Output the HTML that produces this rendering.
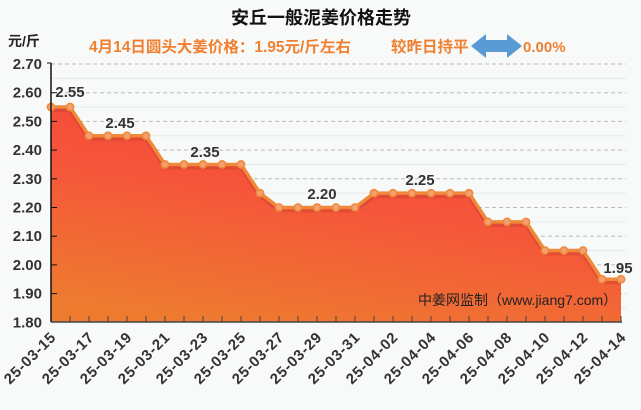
<!DOCTYPE html>
<html><head><meta charset="utf-8"><style>
html,body{margin:0;padding:0;background:#f8fafa;}
svg{display:block;font-family:"Liberation Sans","Noto Sans CJK SC",sans-serif;}
</style></head><body>
<svg width="641" height="410" viewBox="0 0 641 410" xmlns="http://www.w3.org/2000/svg">
<defs>
<linearGradient id="g" x1="0.3" y1="1" x2="0.7" y2="0">
<stop offset="0" stop-color="#ee7a30"/>
<stop offset="0.55" stop-color="#f5553a"/>
<stop offset="1" stop-color="#f5463c"/>
</linearGradient>
</defs>
<rect width="641" height="410" fill="#f8fafa"/>
<text x="321" y="24" font-size="18" font-weight="bold" text-anchor="middle" fill="#111">安丘一般泥姜价格走势</text>
<text x="8" y="46" font-size="14" font-weight="bold" fill="#222">元/斤</text>
<text x="89" y="52" font-size="15.5" font-weight="bold" fill="#f08030">4月14日圆头大姜价格：1.95元/斤左右</text>
<text x="391" y="52" font-size="15.5" font-weight="bold" fill="#f08030">较昨日持平</text>
<polygon points="471,46 486,34 486,40 507,40 507,34 522,46 507,58 507,52 486,52 486,58" fill="#5b9bd5"/>
<text x="523" y="52" font-size="15" font-weight="bold" fill="#f08030">0.00%</text>
<g id="grid"></g>
<g font-size="15" font-weight="bold" fill="#333" text-anchor="end" id="ylab"></g>
<g id="plot"></g>
<g font-size="15" font-weight="bold" fill="#333" letter-spacing="0.8" id="xlab"></g>
<text x="418" y="305" font-size="14" fill="#222">中姜网监制（www.jiang7.com）</text>
</svg>
<script>
var ns="http://www.w3.org/2000/svg";
function el(t,a,p,txt){var e=document.createElementNS(ns,t);for(var k in a)e.setAttribute(k,a[k]);if(txt)e.textContent=txt;document.getElementById(p).appendChild(e);return e;}
function Y(v){return 64+(2.70-v)*287;}
var L=51,R=621;
for(var i=0;i<=9;i++){var v=2.70-i*0.1,y=Y(v);
 if(i<9)el("line",{x1:L,x2:R+5,y1:y,y2:y,stroke:"#bbb","stroke-dasharray":"4,3"},"grid");
 if(i<9){var y2=Y(v-0.05);el("line",{x1:L,x2:R+5,y1:y2,y2:y2,stroke:"#e8eaea"},"grid");}
 el("text",{x:42,y:y+5},"ylab",v.toFixed(2));
}
var d=[2.55,2.55,2.45,2.45,2.45,2.45,2.35,2.35,2.35,2.35,2.35,2.25,2.20,2.20,2.20,2.20,2.20,2.25,2.25,2.25,2.25,2.25,2.25,2.15,2.15,2.15,2.05,2.05,2.05,1.95,1.95];
var pts=d.map(function(v,i){return [L+i*19,Y(v)];});
var s=pts.map(function(p){return p[0]+","+p[1];}).join(" ");
el("polygon",{points:L+","+Y(1.8)+" "+s+" "+R+","+Y(1.8),fill:"url(#g)"},"plot");
el("polyline",{points:pts.map(function(p){return p[0]+","+(p[1]+3);}).join(" "),fill:"none",stroke:"#c0362a","stroke-width":4,opacity:0.35},"plot");
el("polyline",{points:s,fill:"none",stroke:"#ee8a3a","stroke-width":3.5,"stroke-linejoin":"round"},"plot");
pts.forEach(function(p){el("circle",{cx:p[0],cy:p[1],r:3.6,fill:"#f4a070",stroke:"#ee8a3a","stroke-width":1.6},"plot");});
el("line",{x1:L,x2:L,y1:63,y2:322,stroke:"#111","stroke-width":1.5},"plot");
el("line",{x1:L-4,x2:L,y1:63,y2:63,stroke:"#111"},"plot");
for(var i=1;i<9;i++)el("line",{x1:L,x2:L+6,y1:Y(2.7-i*0.1),y2:Y(2.7-i*0.1),stroke:"#111"},"plot");
el("line",{x1:L,x2:R+1,y1:322,y2:322,stroke:"#444","stroke-width":1.5},"plot");
for(var i=1;i<=30;i++){var x=L+i*19;el("line",{x1:x,x2:x,y1:316,y2:322,stroke:"#444"},"plot");}
var lab=[[70,97,"2.55"],[120,128,"2.45"],[205,157,"2.35"],[322,199,"2.20"],[420,185,"2.25"],[618,273,"1.95"]];
lab.forEach(function(l){el("text",{x:l[0],y:l[1],"font-size":15,"font-weight":"bold",fill:"#333","text-anchor":"middle"},"plot",l[2]);});
var dates=["25-03-15","25-03-17","25-03-19","25-03-21","25-03-23","25-03-25","25-03-27","25-03-29","25-03-31","25-04-02","25-04-04","25-04-06","25-04-08","25-04-10","25-04-12","25-04-14"];
dates.forEach(function(t,i){var x=L+i*38+6,y=338;el("text",{x:x,y:y,"text-anchor":"end",transform:"rotate(-45 "+x+" "+y+")"},"xlab",t);});
</script>
</body></html>
